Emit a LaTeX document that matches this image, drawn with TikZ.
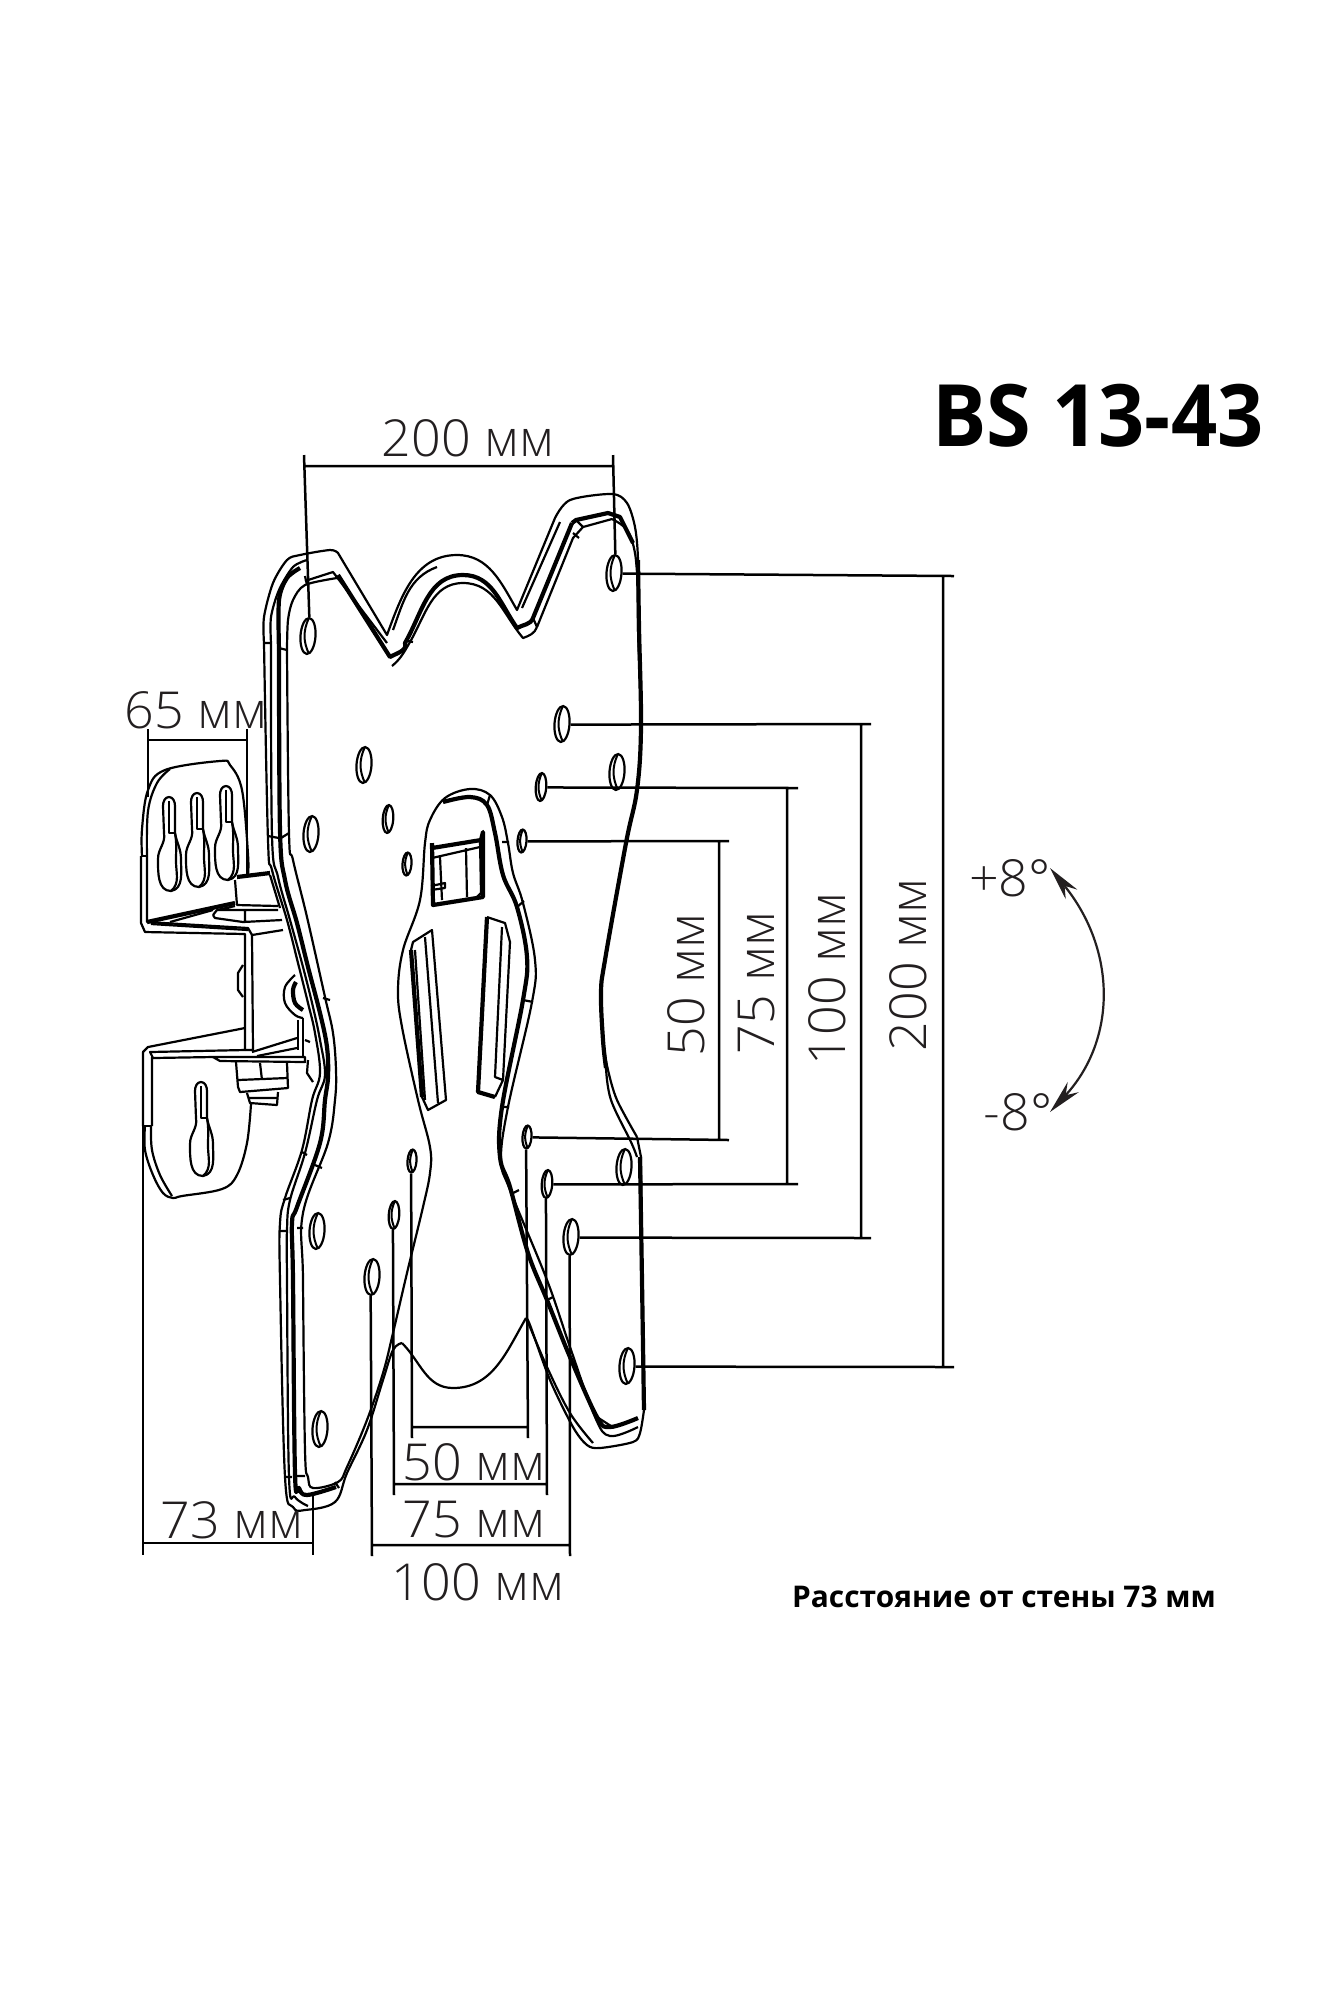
\documentclass[tikz,border=0pt]{standalone}
\usepackage{fontspec}
\usepackage{xcolor}
\definecolor{mount-black}{HTML}{000000}
\definecolor{label-black}{HTML}{231F20}
\newfontfamily\dimfont[FakeStretch=1.02]{Open Sans Light}
\newfontfamily\headfont[FakeStretch=0.94]{Open Sans}
\newfontfamily\notefont{Open Sans}
\usetikzlibrary{shapes.geometric, arrows.meta}
\tikzset{
    edge/.style={mount-black, line width=0.22mm, line join=round},
    heavy/.style={mount-black, line width=0.42mm, line join=round},
    dimline/.style={mount-black, line width=0.25mm},
    dimtext/.style={label-black, inner sep=0pt, font=\dimfont\fontsize{14.5}{16}\selectfont},
    holebig/.style={ellipse, draw=mount-black, line width=0.22mm, inner sep=0pt, minimum width=1.5mm, minimum height=3.6mm, rotate=-4,
        path picture={\draw[mount-black, line width=0.2mm] ([xshift=0.1mm]path picture bounding box.north) to[bend right=25] ([xshift=0.1mm]path picture bounding box.south);}},
    holemid/.style={holebig, minimum width=1.05mm, minimum height=2.8mm},
    holesmall/.style={holebig, minimum width=0.9mm, minimum height=2.3mm}
}
% keyhole slot, given by its top point
\newcommand{\keyslot}[2]{
    \draw[edge, shift={(#1,#2)}] (-5,36) -- (-6,9) to[out=90, in=180] (0,0) to[out=0, in=90] (6,9)
        -- (6,36) to[out=-80, in=90] (12,62) to[out=-90, in=10] (2,94) to[out=180, in=-90] (-11,62)
        to[out=90, in=-80] (-5,36);
    \draw[edge, shift={(#1,#2)}] (0,4) -- (0,36) -- (6,36);
    \draw[edge, shift={(#1,#2)}] (6,36) to[out=-80, in=90] (7,64) to[out=-90, in=40] (2,94);
}
\begin{document}
\begin{tikzpicture}[x=0.1mm, y=-0.1mm]

    % Background
    \fill[white] (0, 0) rectangle (1323, 2000);

    % Plate, outer edge
    \draw[edge] plot[smooth, tension=0.5] coordinates {(264,643) (264,617) (273,583) (287,560) (300,555) (330,550) (338,553)}
        -- (387,635) to[out=70, in=180] (457,555) to[out=0, in=120] (517,610)
        -- (555,518) plot[smooth, tension=0.5] coordinates {(555,518) (570,500) (612,494) (627,503) (635,527) (638,560) (638,627) (641,727) (637,790) (626,843) (605,960) (601,993) (603,1040) (608,1070) (617,1100) (637,1137)};
    \draw[heavy] plot[smooth, tension=0.6] coordinates {(638,560) (639,627) (641,727) (637,790) (626,843) (605,960) (601,993) (603,1040) (606,1068)};
    \draw[edge] plot[smooth, tension=0.6] coordinates {(606,1068) (611,1100) (631,1142) (637,1157)};
    \draw[edge] (637,1137) -- (641,1157) -- (642,1280) -- (644,1410);
    \draw[heavy] (640,1157) -- (642,1280) -- (644,1410);
    \draw[edge] plot[smooth, tension=0.5] coordinates {(644,1410) (640,1433) (633,1442) (600,1448) (587,1445) (573,1427) (550,1380) (530,1325) (526,1318)};
    \draw[edge] (526,1318) to[out=240, in=0] (453,1388) to[out=180, in=-45] (402,1343);
    \draw[edge] plot[smooth, tension=0.6] coordinates {(402,1343) (393,1350) (383,1380) (367,1430) (347,1473) (335,1502) (305,1510) (293,1507) (285,1477) (280,1280) (280,1223) (285,1198) (302,1150) (312,1100) (320,1073) (315,1033) (308,1003) (298,963) (287,920) (272,870) (268,840) (264,643)};

    % Plate, fold lines
    \draw[edge] plot[smooth, tension=0.5] coordinates {(271,643) (271,617) (279,590) (293,567) (307,560)};
    \draw[edge] plot[smooth, tension=0.6] coordinates {(271,643) (272,836) (278,877) (290,920) (303,967) (313,1007) (320,1040) (325,1075) (317,1100) (305,1153) (290,1200) (287,1230) (287,1280) (289,1477) (295,1497) (308,1506)};
    \draw[heavy] plot[smooth, tension=0.5] coordinates {(279,650) (279,600) (287,578) (300,568)};
    \draw[heavy] plot[smooth, tension=0.6] coordinates {(279,650) (280,830) (285,880) (297,923) (308,967) (320,1013) (327,1047) (328,1077) (325,1100) (320,1143) (297,1207) (292,1223) (293,1280) (295,1473) (299,1488) (307,1495) (336,1487)};
    \draw[edge] plot[smooth, tension=0.5] coordinates {(287,650) (288,620) (293,600) (305,585) (337,578)};
    \draw[edge] (305,581) -- (333,572) -- (387,643);
    \draw[heavy] (338,575) -- (390,657) to[out=30, in=-70] (405,643)
        to[out=60, in=180] (463,575) to[out=0, in=125] (517,628) to[out=30, in=-110] (533,618) -- (572,523);
    \draw[edge] (392,666) to[out=40, in=-120] (410,642) to[out=60, in=180] (463,583) to[out=0, in=130] (523,638) to[out=20, in=-110] (537,627);
    \draw[edge] (537,627) -- (573,538) -- (583,527) -- (612,519) plot[smooth, tension=0.6] coordinates {(612,519) (627,530) (635,553) (638,590)};
    \draw[edge] (522,608) -- (560,522);
    \draw[edge] (393,630) to[out=70, in=200] (437,567);
    \draw[heavy] (572,523) -- (576,520) -- (608,513) -- (620,517) -- (633,543);
    \draw[edge] plot[smooth, tension=0.6] coordinates {(287,650) (289,833) (293,860) (307,917) (325,997) (333,1033) (336,1070) (335,1100) (328,1143) (303,1213) (303,1280) (305,1450) (308,1477) (313,1488) (338,1482) (347,1467) (367,1420) (383,1373) (393,1333) (407,1273) (423,1207) (430,1173) (430,1147) (418,1100) (402,1027) (398,990) (403,950) (420,900) (425,843) (430,820) (445,798) (470,789) (490,795) (502,817) (508,843) (513,873) (523,903) (535,960) (532,1002) (508,1107) (501,1160) (510,1190) (547,1280) (570,1347) (595,1417) (610,1436) (638,1427)};
    \draw[heavy] plot[smooth, tension=0.6] coordinates {(443,802) (470,797) (487,805) (495,833) (503,875) (517,907) (527,957) (523,1000) (502,1107) (500,1157) (510,1187) (528,1253) (547,1300) (570,1357) (597,1417) (610,1427) (638,1418)};
    \draw[edge] plot[smooth, tension=0.6] coordinates {(528,1322) (547,1367) (570,1413) (593,1443)};

    % Short cuts across the folds
    \draw[edge] (264,643) -- (271,643) (279,648) -- (287,650) (268,836) -- (279,838) (281,838) -- (289,833)
        (408,641) -- (413,642) (533,618) -- (537,627) (573,533) -- (579,538) (305,576) -- (307,585)
        (576,520) -- (583,527) (490,795) -- (487,805) (502,842) -- (509,842) (517,907) -- (524,901)
        (523,1000) -- (533,1002) (502,1107) -- (509,1107) (513,1193) -- (519,1190) (547,1300) -- (553,1297)
        (597,1417) -- (611,1426) (323,998) -- (330,1000) (302,1152) -- (307,1155) (315,1165) -- (322,1168)
        (283,1200) -- (290,1198) (280,1231) -- (287,1231) (297,1228) -- (303,1228)
        (285,1477) -- (292,1477) (305,1476) -- (296,1476) (335,1482) -- (339,1488);

    % Top window of the cut-out
    \draw[heavy] (432,843) -- (433,905) -- (483,897) -- (483,832) -- (481,840) -- (432,848);
    \draw[edge] (432,858) -- (480,847) (440,857) -- (442,900) (466,848) -- (467,897) (480,840) -- (481,893) -- (477,897);
    \draw[edge] (431,886) -- (445,883) -- (445,888) -- (431,890);

    % Slots of the cut-out
    \draw[edge] (413,942) -- (432,930) -- (446,1100) -- (428,1110) -- (422,1097) -- (411,950) -- cycle;
    \draw[edge] (425,937) -- (438,1103) (415,950) -- (425,1100);
    \draw[heavy] (411,950) -- (422,1097);
    \draw[heavy] (487,917) -- (478,1092) -- (495,1097);
    \draw[edge] (487,917) -- (505,923) -- (510,942) -- (503,1080) -- (495,1097) (502,927) -- (495,1077) -- (503,1080);

    % Holes
    \node[holebig] (h200a) at (308,636) {};
    \node[holebig] (h200b) at (614,573) {};
    \node[holebig] (h100a) at (562,724) {};
    \node[holebig] (h100b) at (364,765) {};
    \node[holebig] (h200c) at (617,772) {};
    \node[holemid] (h75a) at (541,787) {};
    \node[holebig] (h200d) at (311,834) {};
    \node[holemid] (h75b) at (388,819) {};
    \node[holesmall] (h50a) at (522,841) {};
    \node[holesmall] (h50b) at (407,864) {};
    \node[holesmall] (h50c) at (527,1137) {};
    \node[holebig] (h200e) at (624,1167) {};
    \node[holemid] (h75c) at (547,1184) {};
    \node[holebig] (h200f) at (317,1231) {};
    \node[holesmall] (h50d) at (412,1161) {};
    \node[holemid] (h75d) at (394,1215) {};
    \node[holebig] (h100c) at (571,1237) {};
    \node[holebig] (h100d) at (372,1277) {};
    \node[holebig] (h200g) at (627,1366) {};
    \node[holebig] (h200h) at (320,1429) {};

    % Upper wall plate
    \draw[edge] plot[smooth, tension=0.6] coordinates {(142,856) (142,829) (148,790) (165,770) (220,761) (230,765) (242,790) (248,854) (248,874)};
    \draw[edge] plot[smooth, tension=0.6] coordinates {(147,856) (148,811) (157,783) (170,769)};
    \draw[edge] (142,856) -- (147,856);
    \keyslot{169}{797}
    \keyslot{197}{793}
    \keyslot{226}{786}

    % Bracket
    \draw[edge] (141,856) -- (141,923) -- (145,932) -- (245,934) -- (245,1050) -- (150,1052) -- (153,1058);
    \draw[heavy] (147,922) -- (235,903);
    \draw[edge] (147,856) -- (147,922) -- (248,928) -- (252,935) -- (283,930);
    \draw[edge] (170,922) -- (213,910);
    \draw[edge] (151,924) -- (248,930) (252,935) -- (253,1050) -- (245,1050);
    \draw[edge] (243,965) -- (238,973) -- (238,990) -- (243,997);
    \draw[edge] (143,1052) -- (148,1047) -- (245,1028);
    \draw[edge] (143,1052) -- (143,1126) (152,1057) -- (152,1126) (153,1058) -- (213,1057);
    \draw[edge] (252,1052) -- (297,1038) (257,1056) -- (297,1048);
    \draw[edge] plot[smooth, tension=0.6] coordinates {(145,1126) (145,1150) (153,1175) (163,1193) (173,1198) (182,1196) (222,1189) (237,1175) (247,1143) (251,1104)};
    \draw[edge] plot[smooth, tension=0.6] coordinates {(151,1126) (152,1150) (160,1175) (172,1196)};
    \draw[edge] (143,1126) -- (152,1126);
    \keyslot{201}{1082}

    % Upper nut and washer
    \draw[heavy] (237,877) -- (270,873);
    \draw[edge] (235,880) -- (237,905) -- (278,906) (270,875) -- (280,908);
    \draw[edge] (213,915) -- (217,910) -- (235,906) (217,910) -- (278,910) (213,915) -- (215,918) -- (243,922) -- (282,920) (245,910) -- (245,922);

    % Lower nut and washer
    \draw[edge] (213,1057) -- (305,1057) -- (305,1062) -- (220,1061) -- (213,1057);
    \draw[edge] (236,1062) -- (238,1087) -- (240,1092) -- (288,1088) -- (287,1063) (238,1080) -- (287,1078) (260,1063) -- (262,1080);
    \draw[edge] (247,1093) -- (250,1103) -- (277,1105) -- (278,1092) (248,1098) -- (278,1098);

    % Pivot
    \draw[edge] plot[smooth, tension=0.6] coordinates {(295,975) (285,987) (285,1003) (295,1015) (303,1018)};
    \draw[heavy] plot[smooth, tension=0.6] coordinates {(296,982) (293,990) (295,1003) (303,1010)};
    \draw[edge] (298,1020) -- (298,1050) (303,1018) -- (303,1056);
    \draw[edge] (305,1040) -- (310,1042) (308,1060) -- (307,1073) -- (313,1082);

    % Dimensions, top
    \coordinate (d200x) at (304,466);
    \coordinate (d200y) at (613,466);
    \draw[dimline] (h200a.north) -- (304,455) (h200b.north) -- (613,455) (d200x) -- (d200y);
    \node[dimtext] (t200top) at (468,438) {200 мм};

    % Dimensions, left
    \coordinate (d65a) at (148,740);
    \coordinate (d65b) at (247,740);
    \draw[dimline] (148,729) -- (148,797) (247,729) -- (247,874) (d65a) -- (d65b);
    \node[dimtext] (t65) at (196,710) {65 мм};
    \coordinate (d73a) at (143,1543);
    \coordinate (d73b) at (313,1543);
    \draw[dimline] (143,1051) -- (143,1555) (313,1495) -- (313,1555) (d73a) -- (d73b);
    \node[dimtext] (t73) at (232,1520) {73 мм};

    % Dimensions, bottom
    \coordinate (d50a) at (412,1427);
    \coordinate (d50b) at (528,1427);
    \draw[dimline] (h50d.south) -- (412,1438) (h50c.south) -- (528,1438) (d50a) -- (d50b);
    \node[dimtext] (t50b) at (474,1462) {50 мм};
    \coordinate (d75a) at (394,1484);
    \coordinate (d75b) at (547,1484);
    \draw[dimline] (h75d.south) -- (394,1495) (h75c.south) -- (547,1495) (d75a) -- (d75b);
    \node[dimtext] (t75b) at (474,1520) {75 мм};
    \coordinate (d100a) at (372,1545);
    \coordinate (d100b) at (570,1545);
    \draw[dimline] (h100d.south) -- (372,1556) (h100c.south) -- (570,1556) (d100a) -- (d100b);
    \node[dimtext] (t100b) at (478,1582) {100 мм};

    % Dimensions, right
    \draw[dimline] (h50a.east) -- (729,841) (h50c.east) -- (729,1140) (719,841) -- (719,1140);
    \node[dimtext, rotate=90] (t50r) at (686,985) {50 мм};
    \draw[dimline] (h75a.east) -- (798,788) (h75c.east) -- (798,1184) (787,788) -- (787,1184);
    \node[dimtext, rotate=90] (t75r) at (757,983) {75 мм};
    \draw[dimline] (h100a.east) -- (871,724) (h100c.east) -- (871,1238) (861,724) -- (861,1238);
    \node[dimtext, rotate=90] (t100r) at (827,979) {100 мм};
    \draw[dimline] (h200b.east) -- (954,576) (h200g.east) -- (954,1367) (943,576) -- (943,1367);
    \node[dimtext, rotate=90] (t200r) at (908,965) {200 мм};

    % Tilt
    \node[dimtext] (tplus) at (1010,878) {+8°};
    \node[dimtext] (tminus) at (1018,1112) {-8°};
    \coordinate (tilta) at (1050,868);
    \coordinate (tiltb) at (1050,1112);
    \draw[{Stealth[length=3.4mm, width=1.5mm]}-{Stealth[length=3.4mm, width=1.5mm]}, label-black, line width=0.22mm]
        (tilta) .. controls (1117,950) and (1117,1040) .. (tiltb);

    % Titles
    \node[inner sep=0pt, font=\headfont\bfseries\fontsize{24.5}{28}\selectfont] (title) at (1098,416) {BS 13-43};
    \node[inner sep=0pt, font=\notefont\bfseries\fontsize{8.5}{10}\selectfont] (wallnote) at (1004,1597) {Расстояние от стены 73 мм};

\end{tikzpicture}
\end{document}
